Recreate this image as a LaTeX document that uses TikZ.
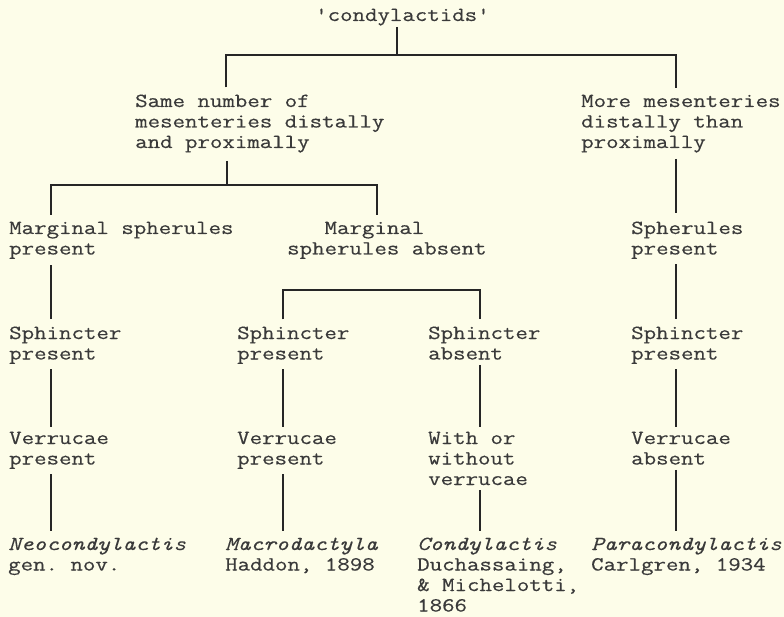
\documentclass[tikz,border=0pt]{standalone}
\usepackage{fontspec}
\newfontfamily\mono{Latin Modern Mono}[FakeStretch=1.21,FakeBold=0.4,ItalicFeatures={FakeBold=0.1}]
\definecolor{bgc}{HTML}{FDFDE9}
\definecolor{txc}{HTML}{3A3A3A}
\definecolor{lnc}{HTML}{262626}
\begin{document}
\begin{tikzpicture}[x=1pt,y=1pt,
  txt/.style={anchor=base west,inner sep=0pt,align=left,text=txc,
    font=\mono\fontsize{20}{20.5}\selectfont\frenchspacing},
  ln/.style={draw=lnc,line width=1.4pt}]
\useasboundingbox (0,0) rectangle (784,-617);
\fill[bgc] (0,0) rectangle (784,-617);
% text nodes (anchored at the baseline of their last line)
\node[txt] (t) at (315,-21) {'condylactids'};
\node[txt] (a) at (135,-148) {Same number of\\mesenteries distally\\and proximally};
\node[txt] (b) at (581,-148) {More mesenteries\\distally than\\proximally};
\node[txt] (c) at (9,-254.5) {Marginal spherules\\present};
\node[txt] (d) at (287,-254.5) {\phantom{spe}Marginal\\spherules absent};
\node[txt] (e) at (631,-254.5) {Spherules\\present};
\node[txt] (f) at (9,-359.5) {Sphincter\\present};
\node[txt] (g) at (237,-359.5) {Sphincter\\present};
\node[txt] (h) at (428,-359.5) {Sphincter\\absent};
\node[txt] (i) at (631,-359.5) {Sphincter\\present};
\node[txt] (k) at (9,-464.5) {Verrucae\\present};
\node[txt] (l) at (237,-464.5) {Verrucae\\present};
\node[txt] (m) at (428,-485) {With or\\without\\verrucae};
\node[txt] (n) at (631,-464.5) {Verrucae\\absent};
\node[txt] (o) at (8,-570.5) {\textit{Neocondylactis}\\gen. nov.};
\node[txt] (p) at (225,-570.5) {\textit{Macrodactyla}\\Haddon, 1898};
\node[txt] (q) at (417,-611.5) {\textit{Condylactis}\\Duchassaing,\\\& Michelotti,\\1866};
\node[txt] (r) at (591,-570.5) {\textit{Paracondylactis}\\Carlgren, 1934};
% junctions and column positions
\coordinate (B0) at (397,-55);
\coordinate (B0l) at (226,-55);
\coordinate (B0r) at (676,-55);
\coordinate (B1) at (227,-185);
\coordinate (B1l) at (51,-185);
\coordinate (B1r) at (377,-185);
\coordinate (B2l) at (283,-290);
\coordinate (B2r) at (480,-290);
% connectors
\draw[ln] ([yshift=-1pt]t.south -| B0) -- (B0);
\draw[ln] ([yshift=7pt]a.north -| B0l) -- (B0l) -- (B0r) -- ([yshift=7pt]b.north -| B0r);
\draw[ln] ([yshift=-8pt]a.south -| B1) -- (B1);
\draw[ln] ([yshift=7pt]c.north -| B1l) -- (B1l) -- (B1r) -- ([yshift=7pt]d.north -| B1r);
\draw[ln] ([yshift=-6pt]b.south -| B0r) -- ([yshift=8pt]e.north -| B0r);
\draw[ln] ([yshift=-6pt]c.south -| B1l) -- ([yshift=7pt]f.north -| B1l);
\draw[ln] ([yshift=7pt]g.north -| B2l) -- (B2l) -- (B2r) -- ([yshift=7pt]h.north -| B2r);
\draw[ln] ([yshift=-5pt]e.south -| B0r) -- ([yshift=7pt]i.north -| B0r);
\draw[ln] ([yshift=-5pt]f.south -| B1l) -- ([yshift=5pt]k.north -| B1l);
\draw[ln] ([yshift=-5pt]g.south -| B2l) -- ([yshift=5pt]l.north -| B2l);
\draw[ln] ([yshift=-5pt]h.south -| B2r) -- ([yshift=5pt]m.north -| B2r);
\draw[ln] ([yshift=-5pt]i.south -| B0r) -- ([yshift=5pt]n.north -| B0r);
\draw[ln] ([yshift=-5pt]k.south -| B1l) -- ([yshift=6pt]o.north -| B1l);
\draw[ln] ([yshift=-5pt]l.south -| B2l) -- ([yshift=6pt]p.north -| B2l);
\draw[ln] ([yshift=-5pt]m.south -| B2r) -- ([yshift=6pt]q.north -| B2r);
\draw[ln] ([yshift=-5pt]n.south -| B0r) -- ([yshift=6pt]r.north -| B0r);
\end{tikzpicture}
\end{document}
